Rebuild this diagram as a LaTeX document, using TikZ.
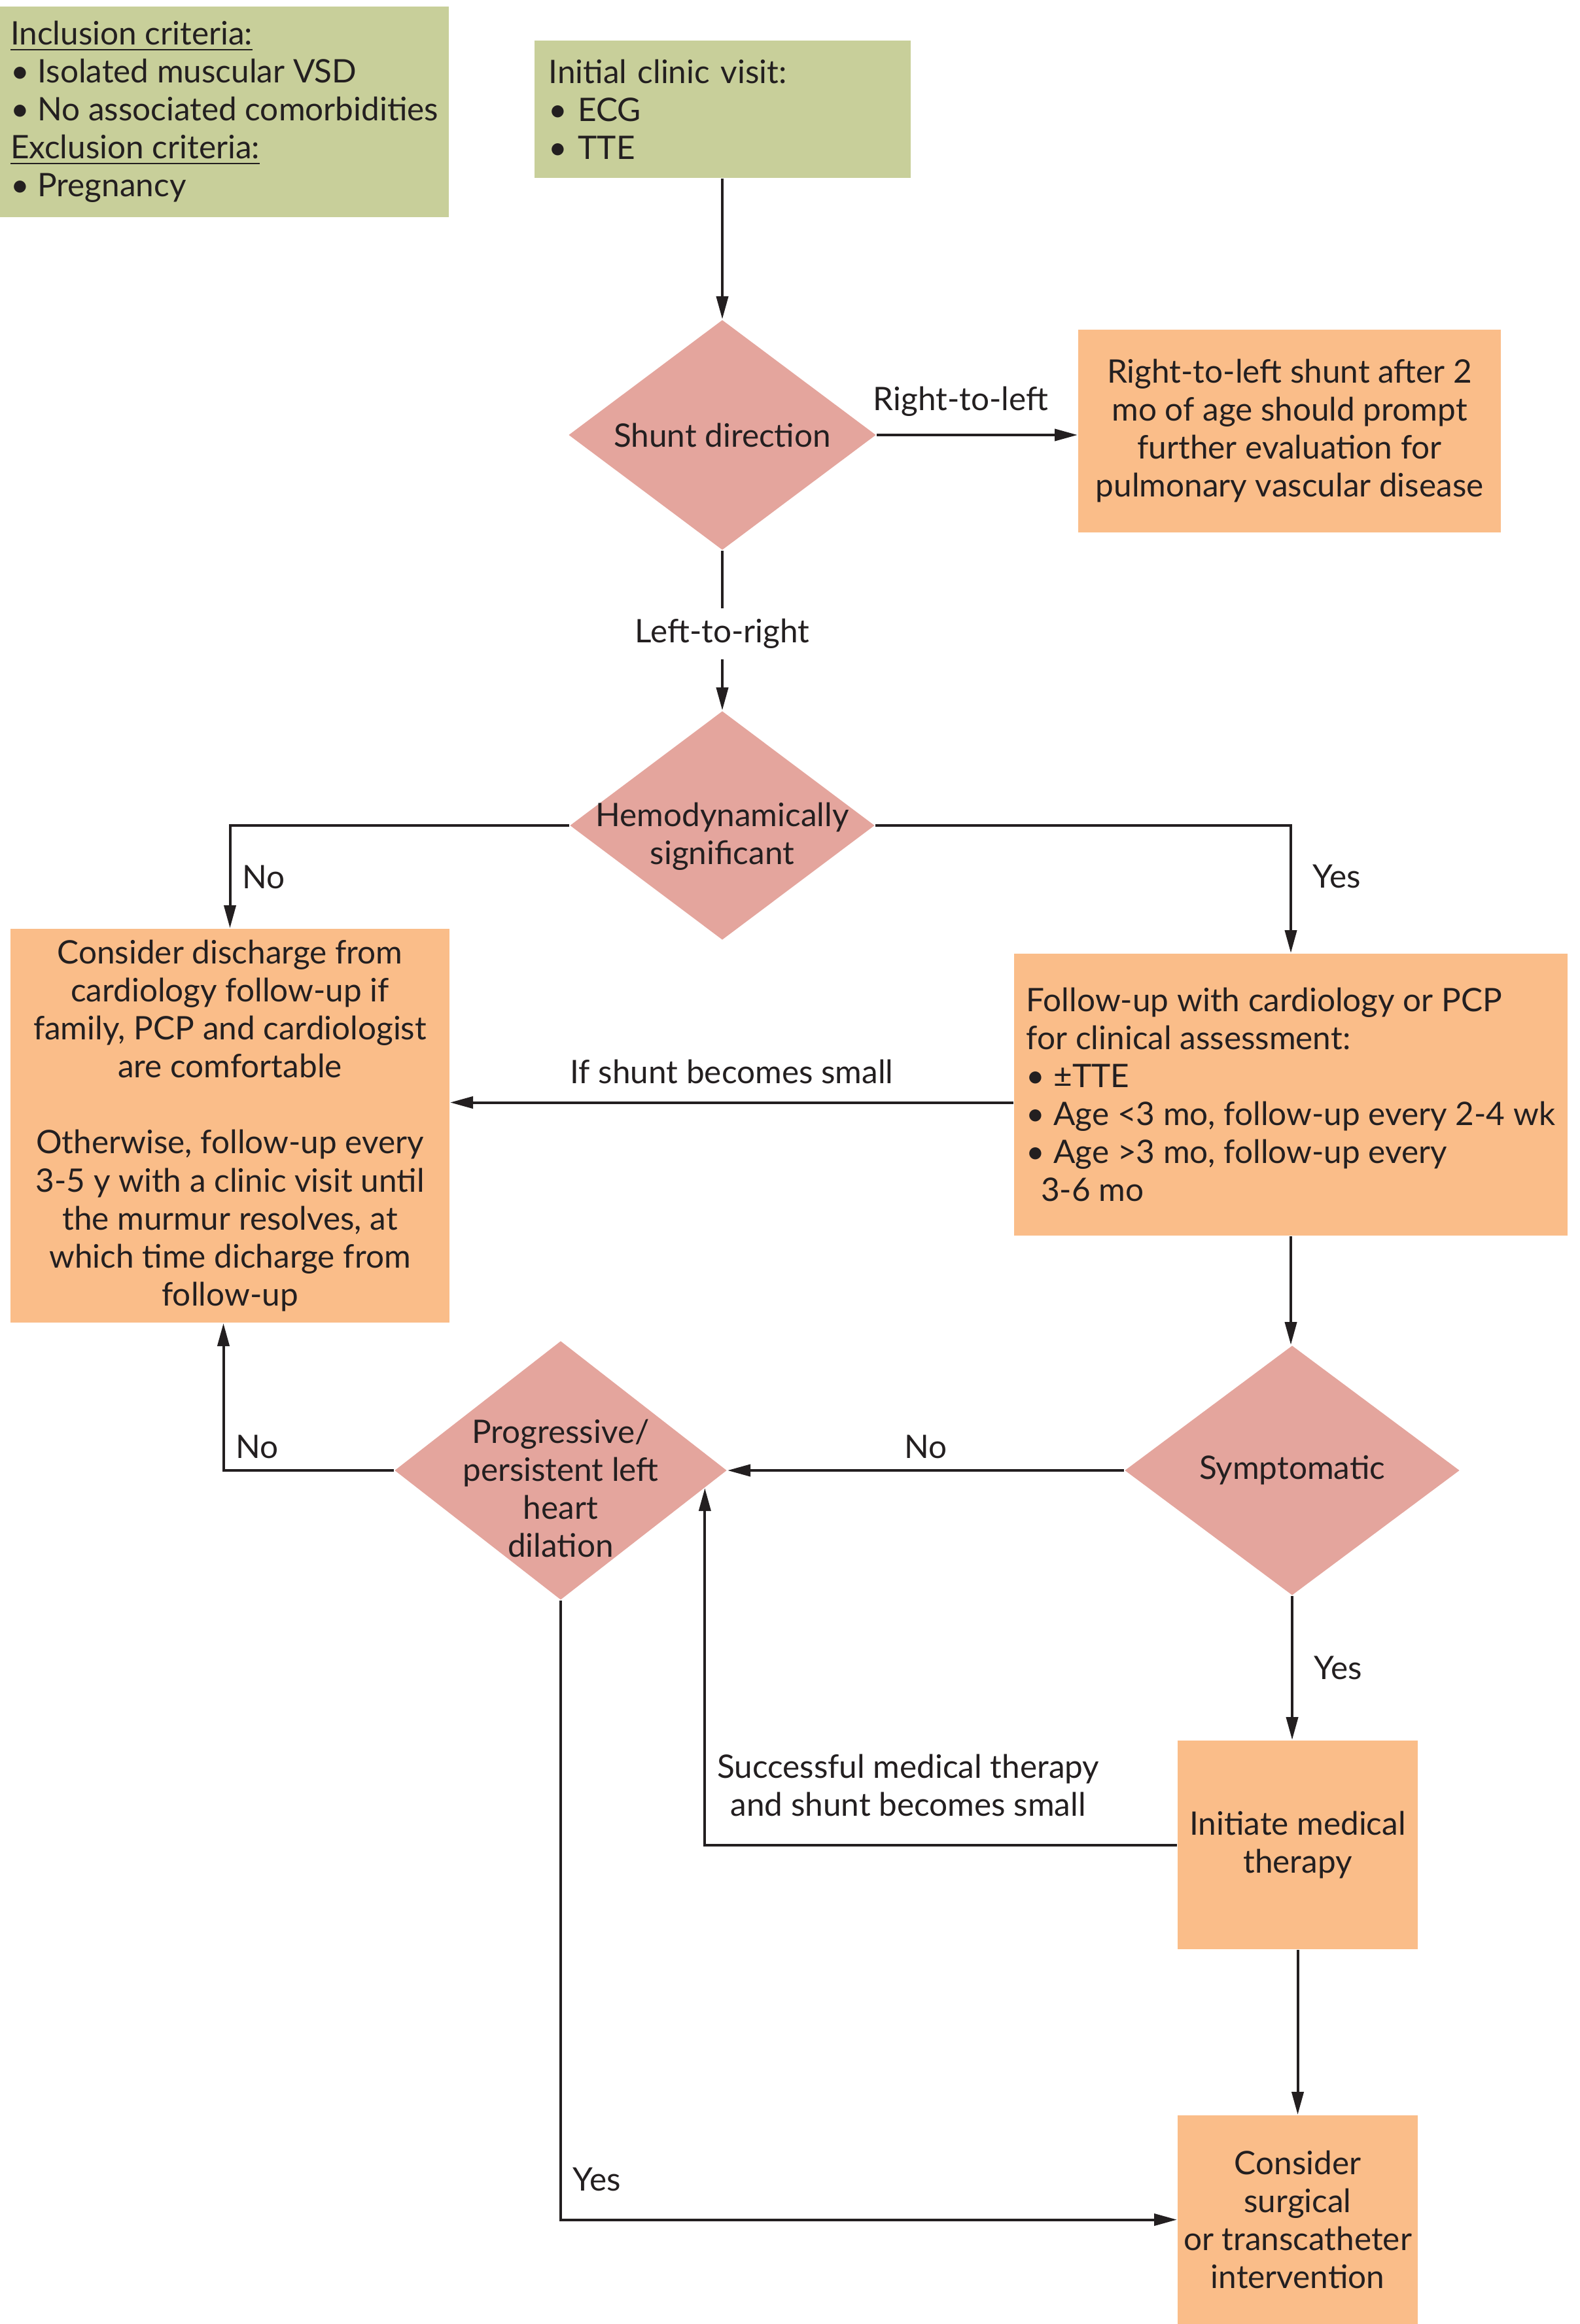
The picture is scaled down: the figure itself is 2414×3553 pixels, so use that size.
\documentclass[tikz,border=0pt]{standalone}
\usepackage{fontspec}
\setmainfont{Lato}
\usetikzlibrary{shapes.geometric,arrows.meta,positioning}

\definecolor{critGreen}{RGB}{200,207,154}
\definecolor{stepOrange}{RGB}{250,189,137}
\definecolor{askPink}{RGB}{228,165,157}
\definecolor{inkBlack}{RGB}{35,31,32}

\begin{document}
\begin{tikzpicture}[
    x=0.2pt, y=-0.2pt,
    every node/.style={%
      font=\fontsize{9.9}{11.6}\selectfont,
      text=inkBlack,
    },
    box/.style={%
      rectangle,
      fill=stepOrange,
      align=center,
      inner sep=0pt,
    },
    greenbox/.style={%
      rectangle,
      fill=critGreen,
      align=left,
      inner sep=0pt,
    },
    decision/.style={%
      diamond,
      fill=askPink,
      inner sep=0pt,
    },
    line/.style={%
      draw=inkBlack,
      line width=0.8pt,
      -{Triangle[length=7pt,width=3.6pt]},
    },
  ]

    \useasboundingbox (0,0) rectangle (2414,3553);

    \node [greenbox, minimum width=137.2pt, minimum height=64.4pt]
      (incl) at (343,171) {\underline{Inclusion criteria:}\\
        • Isolated muscular VSD\\
        • No associated comorbidities\\
        \underline{Exclusion criteria:}\\
        • Pregnancy};
    \node [greenbox, minimum width=115pt, minimum height=42pt, text width=106.2pt]
      (visit) at (1104,167) {Initial clinic visit:\\ • ECG\\ • TTE};

    \path (visit) ++(0,498) node [decision, minimum width=94pt, minimum height=70.4pt,
      label={center:Shunt direction}] (shunt) {};
    \path (shunt) ++(867,-6) node [box, minimum width=129.2pt, minimum height=62pt]
      (rtl) {Right-to-left shunt after 2\\ mo of age should prompt\\
        further evaluation for\\ pulmonary vascular disease};
    \path (shunt) ++(0,597) node [decision, minimum width=93.2pt, minimum height=70pt,
      label={[align=center, yshift=-3.4pt]center:Hemodynamically\\significant}] (hemo) {};
    \path (hemo) ++(-752.5,459) node [box, minimum width=134.2pt, minimum height=120.4pt]
      (discharge) {Consider discharge from\\ cardiology follow-up if\\
        family, PCP and cardiologist\\ are comfortable\\[11.6pt]
        Otherwise, follow-up every\\ 3-5 y with a clinic visit until\\
        the murmur resolves, at\\ which time dicharge from\\ follow-up};
    \path (hemo) ++(869,411.5) node [box, align=left, minimum width=169.2pt,
      minimum height=86.2pt]
      (follow) {Follow-up with cardiology or PCP\\ for clinical assessment:\\
        • ±TTE\\ • Age <3 mo, follow-up every 2-4 wk\\
        • Age >3 mo, follow-up every\\ \hspace*{0.45em}3-6 mo};
    \path (follow) ++(2,574.5) node [decision, minimum width=102.4pt, minimum height=76.4pt,
      label={center:Symptomatic}] (sympt) {};
    \path (sympt) ++(-1118,0) node [decision, minimum width=101.6pt, minimum height=79.2pt,
      label={[align=center, yshift=-5.4pt]center:Progressive/\\persistent left\\heart\\dilation}]
      (prog) {};
    \path (sympt) ++(8.5,572.5) node [box, minimum width=73.4pt, minimum height=63.8pt]
      (therapy) {Initiate medical\\ therapy};
    \path (therapy) ++(0,573) node [box, minimum width=73.4pt, minimum height=63.8pt]
      (surgery) {Consider\\ surgical\\ or transcatheter\\ intervention};

    \draw [line] (visit) -- (shunt);
    \draw [line] (shunt.east) -- (shunt.east -| rtl.west)
      node [midway, above, yshift=2pt, xshift=-5pt] {Right-to-left};
    \draw [line] (shunt) -- (hemo) node [midway, fill=white, yshift=-1pt] {Left-to-right};
    \draw [line] (hemo.west) -| (discharge.north) node [pos=0.75, right] {No};
    \draw [line] (hemo.east) -| (follow.north) node [pos=0.7, right, xshift=3pt] {Yes};
    \draw [line] ([yshift=-2.4pt]follow.west) -- ([yshift=-2.4pt]follow.west -| discharge.east)
      node [midway, above, yshift=2pt] {If shunt becomes small};
    \draw [line] (follow.south) -- (follow.south |- sympt.north);
    \draw [line] (sympt.west) -- (prog.east) node [midway, above] {No};
    \draw [line] (prog.west) -| ([xshift=-2pt]discharge.south) node [pos=0.5, above right] {No};
    \draw [line] (sympt.south) -- (sympt.south |- therapy.north)
      node [midway, right, xshift=3pt] {Yes};
    \draw [line] (therapy.west) -| (prog.-7)
      node [pos=0.5, above right, align=center, yshift=5pt] {Successful medical therapy\\ and shunt becomes small};
    \draw [line] (therapy.south) -- (surgery.north);
    \draw [line] (prog.south) |- (surgery.west) node [pos=0.5, above right, yshift=5pt] {Yes};
\end{tikzpicture}
\end{document}
